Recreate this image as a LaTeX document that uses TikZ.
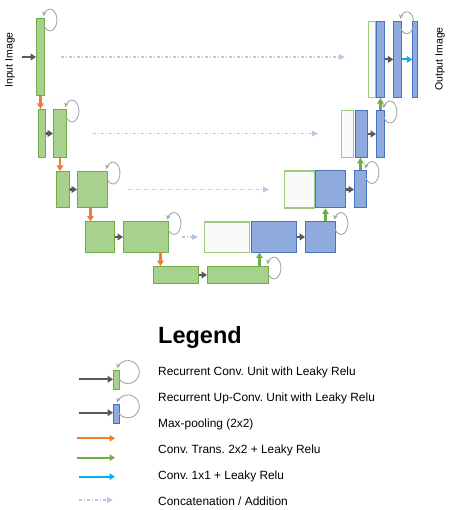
\documentclass[tikz,border=0pt]{standalone}
\usepackage{fontspec}
\setmainfont{Liberation Sans}
\frenchspacing
\usepackage{xcolor}
\definecolor{blkgreen}{HTML}{A9D18E}
\definecolor{edgegreen}{HTML}{70AD47}
\definecolor{blkblue}{HTML}{8FAADC}
\definecolor{edgeblue}{HTML}{4472C4}
\definecolor{catedge}{HTML}{9DCB80}
\definecolor{arrdark}{HTML}{595959}
\definecolor{arrorange}{HTML}{ED7D31}
\definecolor{arrcyan}{HTML}{00B0F0}
\definecolor{skipblue}{HTML}{B4C7E7}
\definecolor{loopgray}{HTML}{A6A6A6}
\usepackage{tikz}
\usetikzlibrary{arrows.meta}

\begin{document}
\begin{tikzpicture}[
  x=1pt, y=-1pt,
  sz/.style 2 args={minimum width=#1pt, minimum height=#2pt},
  enc/.style={rectangle, draw=edgegreen, fill=blkgreen, line width=0.9pt, inner sep=0pt, anchor=north west},
  dec/.style={rectangle, draw=edgeblue, fill=blkblue, line width=0.9pt, inner sep=0pt, anchor=north west},
  cat/.style={rectangle, draw=catedge, fill=black!2, line width=1.2pt, inner sep=0pt, anchor=north west},
  conv/.style={-{Triangle[length=5.5pt, width=7pt]}, line width=2.2pt, arrdark},
  down/.style={-{Triangle[length=5.5pt, width=6.5pt]}, line width=2.2pt, arrorange},
  up/.style={-{Triangle[length=5.5pt, width=6.5pt]}, line width=2.2pt, edgegreen},
  outc/.style={-{Triangle[length=5.5pt, width=6.5pt]}, line width=2.2pt, arrcyan},
  skip/.style={-{Triangle[length=6pt, width=5.5pt]}, line width=1.2pt, skipblue, dash pattern=on 3pt off 2pt on 1pt off 2pt},
  rloop/.style={loopgray, line width=0.9pt, -{Stealth[length=4.5pt, width=4.5pt]}},
  txt/.style={font=\fontsize{11.9}{14}\selectfont, anchor=base west, inner sep=0pt},
  side/.style={font=\fontsize{10.5}{12}\selectfont, rotate=90, inner sep=0pt},
]
\useasboundingbox (0,0) rectangle (448,510);

% encoder
\node[enc, sz={8}{77}] (e1) at (36,18) {};
\node[enc, sz={7}{48}] (e2a) at (38,109) {};
\node[enc, sz={13}{48}] (e2b) at (53,109) {};
\node[enc, sz={13}{36}] (e3a) at (56,171) {};
\node[enc, sz={30}{36}] (e3b) at (77,171) {};
\node[enc, sz={29}{30}] (e4a) at (85,221.5) {};
\node[enc, sz={45}{30}] (e4b) at (123,221.5) {};
\node[enc, sz={45}{17}] (e5a) at (153,266) {};
\node[enc, sz={61}{17}] (e5b) at (207,266) {};

% decoder
\node[cat, sz={45}{30}] (d4c) at (204,221.5) {};
\node[dec, sz={45}{30}] (d4u) at (251,221.5) {};
\node[dec, sz={30}{30}] (d4r) at (305,221.5) {};
\node[cat, sz={30}{37}] (d3c) at (284,170.5) {};
\node[dec, sz={30}{37}] (d3u) at (315,170.5) {};
\node[dec, sz={12}{37}] (d3r) at (354,170.5) {};
\node[cat, sz={12}{47}] (d2c) at (341,110) {};
\node[dec, sz={12}{47}] (d2u) at (355,110) {};
\node[dec, sz={8}{47}] (d2r) at (376,110) {};
\node[cat, sz={7}{76.5}] (d1c) at (368,20.7) {};
\node[dec, sz={8}{76.5}] (d1u) at (376,20.7) {};
\node[dec, sz={7.5}{76.5}] (d1r) at (393.3,20.7) {};
\node[dec, sz={5}{76.5}] (d1o) at (412.3,20.7) {};

\node[side] (inlab) at (10,60) {Input Image};
\node[side] (outlab) at (440,59) {Output Image};

% input / output
\coordinate (inp) at (22,57);
\draw[conv] (inp) -- (inp -| e1.west);
\draw[outc] (d1r) -- (d1o);

% conv units
\draw[conv] (e2a) -- (e2b);
\draw[conv] (e3a) -- (e3b);
\draw[conv] (e4a) -- (e4b);
\draw[conv] (e5a) -- (e5b);
\draw[conv] (d4u) -- (d4r);
\draw[conv] (d3u) -- (d3r);
\draw[conv] (d2u) -- (d2r);
\draw[conv] (d1u) -- (d1r);

% pooling
\draw[down] (e1.south) -- (e1.south |- e2a.north);
\draw[down] (e2b.south) -- (e2b.south |- e3a.north);
\draw[down] ([xshift=-2pt]e3b.south) -- ([xshift=-9.5pt]e4a.north);
\draw[down] ([xshift=14.5pt]e4b.south) -- ([xshift=-15.5pt]e5a.north);

% up-conv
\draw[up] ([xshift=21.5pt]e5b.north) -- ([xshift=-14.5pt]d4u.south);
\draw[up] ([xshift=5pt]d4r.north) -- ([xshift=-5pt]d3u.south);
\draw[up] (d3r.north) -- (d3r.north |- d2u.south);
\draw[up] (d2r.north) -- (d2r.north |- d1u.south);

% skip connections
\draw[skip, shorten <=16pt, shorten >=23pt] (e1.east |- 0,57) -- (d1c.west |- 0,57);
\draw[skip, shorten <=26pt, shorten >=23pt] (e2b.east) -- (e2b.east -| d2c.west);
\draw[skip, shorten <=20pt, shorten >=15pt] (e3b.east) -- (e3b.east -| d3c.west);
\draw[skip, shorten <=13pt, shorten >=6pt] (e4b.east) -- (e4b.east -| d4c.west);

% recurrent loops
\draw[rloop] ([shift={(-1,7.5)}]e1.north east) arc[start angle=150, end angle=-160, x radius=7, y radius=11];
\draw[rloop] ([shift={(-1,7.5)}]e2b.north east) arc[start angle=150, end angle=-160, x radius=7, y radius=11];
\draw[rloop] ([shift={(-1,7.5)}]e3b.north east) arc[start angle=150, end angle=-160, x radius=7, y radius=11];
\draw[rloop] ([shift={(-1,7.5)}]e4b.north east) arc[start angle=150, end angle=-160, x radius=7, y radius=11];
\draw[rloop] ([shift={(-1,7.5)}]e5b.north east) arc[start angle=150, end angle=-160, x radius=7, y radius=11];
\draw[rloop] ([shift={(-1,7.5)}]d4r.north east) arc[start angle=150, end angle=-160, x radius=7, y radius=11];
\draw[rloop] ([shift={(-1,7.5)}]d3r.north east) arc[start angle=150, end angle=-160, x radius=7, y radius=11];
\draw[rloop] ([shift={(-1,7.5)}]d2r.north east) arc[start angle=150, end angle=-160, x radius=7, y radius=11];
\draw[rloop] ([shift={(-1,7.5)}]d1r.north east) arc[start angle=150, end angle=-160, x radius=7, y radius=11];

% legend
\node[font=\bfseries\fontsize{23.5}{28}\selectfont, anchor=base west, inner sep=0pt] (leg) at (158,343.3) {Legend};
\node[txt] (t1) at (158,375.7) {Recurrent Conv. Unit with Leaky Relu};
\node[txt] (t2) at (158,401.7) {Recurrent Up-Conv. Unit with Leaky Relu};
\node[txt] (t3) at (158,427.7) {Max-pooling (2x2)};
\node[txt] (t4) at (158,453.3) {Conv. Trans. 2x2 + Leaky Relu};
\node[txt] (t5) at (158,479.3) {Conv. 1x1 + Leaky Relu};
\node[txt] (t6) at (158,505.7) {Concatenation / Addition};

\node[enc, sz={6}{19}] (k1) at (113,370) {};
\node[dec, sz={6}{18.4}] (k2) at (113,404.3) {};
\coordinate (a1) at (79,379.3);
\coordinate (a2) at (79,412.7);
\coordinate (a3) at (77,438.3);
\coordinate (a4) at (77,457.7);
\coordinate (a5) at (79,476.7);
\coordinate (a6) at (79,500);
\draw[conv] (a1) -- (a1 -| k1.west);
\draw[conv] (a2) -- (a2 -| k2.west);
\draw[rloop] ([shift={(-1,9.2)}]k1.north east) arc[start angle=141.5, end angle=-160, radius=11.5];
\draw[rloop] ([shift={(-1,9.2)}]k2.north east) arc[start angle=141.5, end angle=-160, radius=11.5];
\draw[down] (a3) -- ++(38,0);
\draw[up] (a4) -- ++(38,0);
\draw[outc] (a5) -- ++(36,0);
\draw[skip] (a6) -- ++(34,0);

\end{tikzpicture}
\end{document}
